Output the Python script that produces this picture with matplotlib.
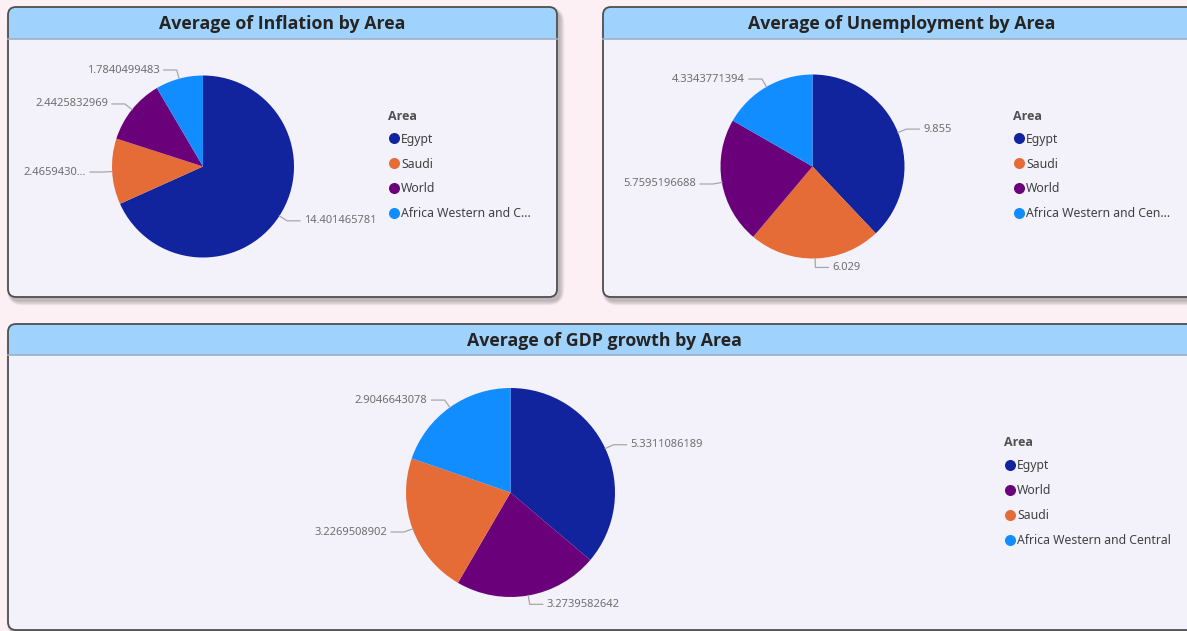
import matplotlib.pyplot as plt
import numpy as np
from matplotlib.patches import FancyBboxPatch, Rectangle

plt.rcParams['font.family'] = ['Noto Sans', 'DejaVu Sans']

#=========================================#
# data

areas_top = ['Egypt', 'Saudi', 'World', 'Africa Western and Central']
inflation = [14.401465781, 2.4659430, 2.4425832969, 1.7840499483]
inflation_labels = ['14.401465781', '2.4659430...', '2.4425832969', '1.7840499483']
inflation_legend = ['Egypt', 'Saudi', 'World', 'Africa Western and C...']

unemployment = [9.855, 6.029, 5.7595196688, 4.3343771394]
unemployment_labels = ['9.855', '6.029', '5.7595196688', '4.3343771394']
unemployment_legend = ['Egypt', 'Saudi', 'World', 'Africa Western and Cen...']

areas_gdp = ['Egypt', 'World', 'Saudi', 'Africa Western and Central']
gdp_growth = [5.3311086189, 3.2739582642, 3.2269508902, 2.9046643078]
gdp_labels = ['5.3311086189', '3.2739582642', '3.2269508902', '2.9046643078']
gdp_legend = ['Egypt', 'World', 'Saudi', 'Africa Western and Central']

colors = {'Egypt': '#12239E', 'Saudi': '#E66C37', 'World': '#6B007B',
          'Africa Western and Central': '#118DFF'}

#=========================================#
W, H = 1187, 631
PAGE = '#FCF0F5'
BODY = '#F3F1FA'
HEADER = '#A0D2FE'
BOLD = ['Open Sans', 'DejaVu Sans']

fig = plt.figure(figsize=(W / 100, H / 100), dpi=100, facecolor=PAGE)
canvas = fig.add_axes([0, 0, 1, 1])
canvas.set_xlim(0, W)
canvas.set_ylim(H, 0)
canvas.axis('off')


def panel(x0, y0, x1, y1, title, hdr):
    # soft shadow bottom-right
    for i in range(10):
        sh = FancyBboxPatch((x0 + 3 - i * 0.5, y0 + 4 - i * 0.5), x1 - x0 + i, y1 - y0 + i,
                            boxstyle='round,pad=0,rounding_size=%d' % (8 + i),
                            fc='#5a5a5a', ec='none', alpha=0.045)
        canvas.add_patch(sh)
    body = FancyBboxPatch((x0, y0), x1 - x0, y1 - y0, boxstyle='round,pad=0,rounding_size=8',
                          fc=BODY, ec='none')
    canvas.add_patch(body)
    head = Rectangle((x0, y0), x1 - x0, hdr, fc=HEADER, ec='none')
    canvas.add_patch(head)
    head.set_clip_path(body)
    canvas.plot([x0, x1], [y0 + hdr, y0 + hdr], color='#9fb0c4', lw=1.2)
    edge = FancyBboxPatch((x0, y0), x1 - x0, y1 - y0, boxstyle='round,pad=0,rounding_size=8',
                          fc='none', ec='#4f4f4f', lw=1.3)
    canvas.add_patch(edge)
    canvas.text((x0 + x1) / 2, y0 + hdr / 2 + 1, title, ha='center', va='center',
                fontsize=12.8, fontweight='bold', family=BOLD, color='#252423')


def legend(x, y, gap, names, texts):
    canvas.text(x, y, 'Area', ha='left', va='center', fontsize=9, fontweight='bold',
                family=BOLD, color='#505050')
    for i, (n, t) in enumerate(zip(names, texts)):
        yy = y + gap * (i + 1) - 1.5
        canvas.scatter([x + 6], [yy - 1], s=48, color=colors[n], zorder=3)
        canvas.text(x + 13, yy, t, ha='left', va='center', fontsize=8.8, color='#404040')


def pie_chart(cx, cy, r, values, names, labels):
    ax = fig.add_axes([(cx - 1.25 * r) / W, (H - cy - 1.25 * r) / H, 2.5 * r / W, 2.5 * r / H])
    wedges, _ = ax.pie(values, colors=[colors[n] for n in names], startangle=90,
                       counterclock=False, wedgeprops=dict(linewidth=0))
    for w, lab in zip(wedges, labels):
        th = np.deg2rad((w.theta1 + w.theta2) / 2)
        c, s = np.cos(th), np.sin(th)
        e = 1 + 9.0 / r
        side = 1 if c >= 0 else -1
        x1, y1 = e * c, e * s
        x2 = x1 + side * 13.0 / r
        ax.plot([c, x1, x2], [s, y1, y1], color='#a8a8a8', lw=0.9, clip_on=False)
        ax.text(x2 + side * 4.0 / r, y1, lab, ha='left' if side > 0 else 'right', va='center',
                fontsize=8, color='#6f6f6f', clip_on=False)


#=========================================#
panel(8, 7, 557, 297, 'Average of Inflation by Area', 32)
panel(603, 7, 1200, 297, 'Average of Unemployment by Area', 32)
panel(8, 324, 1200, 630, 'Average of GDP growth by Area', 31)

pie_chart(203, 166.5, 91, inflation, areas_top, inflation_labels)
pie_chart(812.5, 166.5, 92, unemployment, areas_top, unemployment_labels)
pie_chart(510.5, 492.5, 104.5, gdp_growth, areas_gdp, gdp_labels)

legend(388, 116, 24.8, areas_top, inflation_legend)
legend(1013, 116, 24.8, areas_top, unemployment_legend)
legend(1004, 442, 25, areas_gdp, gdp_legend)

plt.savefig('out.png', dpi=100, facecolor=PAGE)
